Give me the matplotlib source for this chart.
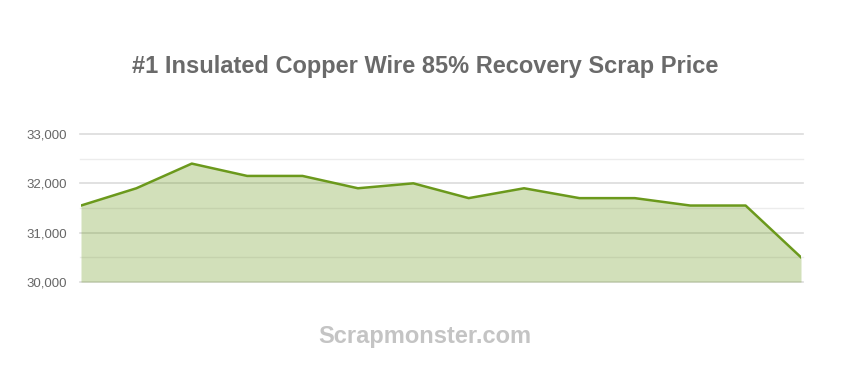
import matplotlib
matplotlib.use("Agg")
import matplotlib.pyplot as plt
from matplotlib.ticker import FuncFormatter

plt.rcParams['font.family'] = ['Liberation Sans', 'DejaVu Sans']

title = "#1 Insulated Copper Wire 85% Recovery Scrap Price"
watermark = "Scrapmonster.com"
prices = [31550, 31900, 32400, 32150, 32150, 31900, 32000,
          31700, 31900, 31700, 31700, 31550, 31550, 30500]
y_ticks = [30000, 31000, 32000, 33000]

line_col = "#6b991c"
x = list(range(len(prices)))

fig = plt.figure(figsize=(8.5, 3.7), dpi=100)
ax = fig.add_axes([81 / 850, 1 - 282 / 370, 720 / 850, 148 / 370])

# grid: labelled lines every 1000, lighter ones in between
for v in range(30000, 33001, 500):
    major = v % 1000 == 0
    ax.axhline(v, color="#dcdcdc" if major else "#ececec", lw=1.2 if major else 1.0, zorder=0,
               xmin=-0.002, xmax=1.003, clip_on=False)

ax.fill_between(x, prices, 30000, color=line_col, alpha=0.3, lw=0, zorder=1)
ax.plot(x, prices, color=line_col, lw=1.8, zorder=2)

ax.set_xlim(0, len(prices) - 1)
ax.set_ylim(30000, 33000)
ax.set_yticks(y_ticks)
ax.yaxis.set_major_formatter(FuncFormatter(lambda v, p: f"{int(v):,}"))
ax.set_xticks([])
ax.tick_params(axis="y", length=0, pad=10, labelsize=9.5, labelcolor="#666666")
for s in ax.spines.values():
    s.set_visible(False)

fig.text(0.5, 1 - 66 / 370, title, ha="center", va="center",
         fontsize=17, fontweight="bold", color="#6a6a6a")
fig.text(0.5, 1 - 336 / 370, watermark, ha="center", va="center",
         fontsize=17, fontweight="bold", color="#c4c4c4")

fig.savefig("out.png", dpi=100)
